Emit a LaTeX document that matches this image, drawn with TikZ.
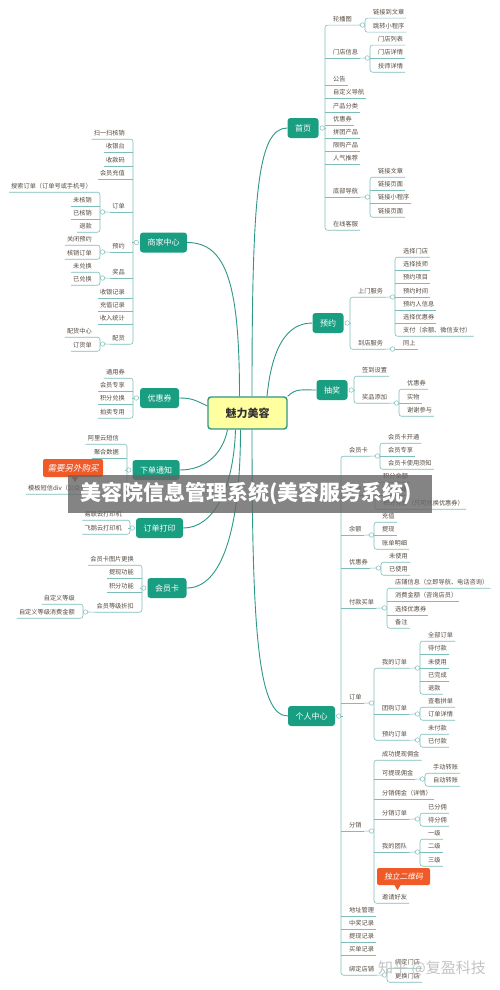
\documentclass[tikz,border=0pt]{standalone}
\usepackage{fontspec}
\setmainfont{Noto Sans CJK SC}
\newfontfamily\penche[FakeSlant=0.2]{Noto Sans CJK SC}

\definecolor{vert}{RGB}{26,158,130}
\definecolor{vertfonce}{RGB}{45,152,135}
\definecolor{trait}{RGB}{125,190,185}
\definecolor{texte}{RGB}{85,75,65}
\definecolor{jaune}{RGB}{255,255,160}
\definecolor{orangec}{RGB}{240,90,40}

\tikzset{
    item/.style={font=\fontsize{6.2}{7}\selectfont, text=texte, inner xsep=2pt, inner ysep=2.25pt, text height=4.5pt, text depth=1pt},
    itemD/.style={item, anchor=west},
    itemG/.style={item, anchor=east},
    rameau/.style={draw=trait, line width=0.6pt},
    bouton/.style={circle, draw=trait, fill=white, line width=0.5pt, minimum size=4.5pt, inner sep=0pt},
    theme/.style={fill=vert, rounded corners=3pt, text=white, font=\fontsize{8}{9}\selectfont, minimum height=20pt, inner xsep=7.5pt, inner ysep=0pt},
    centre/.style={draw=vertfonce, line width=1.4pt, fill=jaune, rounded corners=3pt, minimum width=79pt, minimum height=32pt, font=\fontsize{11}{12}\selectfont\bfseries, text=black!80},
    branche/.style={draw=vertfonce, line width=0.9pt},
    bulle/.style={fill=orangec, rounded corners=2pt, text=white, inner sep=0pt}
}

% soulignements et accolades (D = droite, G = gauche)
\newcommand{\soulD}[1]{\draw[rameau] (#1.south east) -- ([xshift=-6pt]#1.south west);}
\newcommand{\accD}[2]{\draw[rameau, rounded corners=2.5pt] (#1.south east) -- ([xshift=-6pt]#1.south west) -- ([xshift=-6pt]#2.south west) -- (#2.south east);}
\newcommand{\soulG}[1]{\draw[rameau] (#1.south west) -- ([xshift=6pt]#1.south east);}
\newcommand{\accG}[2]{\draw[rameau, rounded corners=2.5pt] (#1.south west) -- ([xshift=6pt]#1.south east) -- ([xshift=6pt]#2.south east) -- (#2.south west);}

\begin{document}
\begin{tikzpicture}[x=1pt, y=-1pt]
            % Fond
            \fill[white] (0,0) rectangle (500,990);
            \useasboundingbox (0,0) rectangle (500,990);

            % Nœud central et thèmes
            \node[centre] (main) at (247.5,413) {魅力美容};
            \node[theme] (sy) at (303,128) {首页};
            \node[theme] (yy) at (328,323) {预约};
            \node[theme] (cj) at (332,390) {抽奖};
            \node[theme] (gr) at (311.5,716) {个人中心};
            \node[theme] (sj) at (163.5,242.5) {商家中心};
            \node[theme] (yh) at (159.5,398) {优惠券};
            \node[theme] (xd) at (156,470) {下单通知};
            \node[theme] (dy) at (159.5,528) {订单打印};
            \node[theme] (hk) at (167,588) {会员卡};

            % Branches principales
            \draw[branche] ([xshift=4.5pt]main.north) .. controls +(0,-200) and +(-30,0) .. (sy.west);
            \draw[branche] ([xshift=19.5pt]main.north) .. controls +(5,-50) and +(-25,0) .. (yy.west);
            \draw[branche] (main.north east) .. controls +(8,-8) and +(-15,0) .. (cj.west);
            \draw[branche] ([xshift=-8pt]main.north) .. controls +(0,-110) and +(40,0) .. (sj.east);
            \draw[branche] ([yshift=7pt]main.west) .. controls +(-12,-6) and +(12,0) .. (yh.east);
            \draw[branche] ([xshift=-20pt]main.south) .. controls +(-5,25) and +(25,0) .. (xd.east);
            \draw[branche] ([xshift=-12pt]main.south) .. controls +(-2,60) and +(30,0) .. (dy.east);
            \draw[branche] ([xshift=-7pt]main.south) .. controls +(0,100) and +(35,0) .. (hk.east);
            \draw[branche] ([xshift=4.5pt]main.south) .. controls +(0,200) and +(-30,0) .. (gr.west);

            % Boutons des thèmes
            \foreach \n in {sy,yy,cj,gr} {
                \node[bouton] (k-\n) at ([xshift=3.5pt]\n.east) {};
                \draw[rameau] (k-\n.east) -- ++(1.5,0);
            }
            \foreach \n in {sj,yh,xd,dy,hk} {
                \node[bouton] (k-\n) at ([xshift=-3.5pt]\n.west) {};
                \draw[rameau] (k-\n.west) -- ++(-1.5,0);
            }

            % ---------- 首页 ----------
            \foreach \y/\lab/\n in {20/轮播图/sy1, 53/门店信息/sy2, 80/公告/sy3, 93/自定义导航/sy4, 107/产品分类/sy5, 120/优惠券/sy6,
                133/拼团产品/sy7, 146/限购产品/sy8, 159/人气推荐/sy9, 192/底部导航/sy10, 225/在线客服/sy11}
                \node[itemD] (\n) at (331,\y) {\lab};
            \accD{sy1}{sy11}
            \foreach \i in {2,...,10} {\soulD{sy\i}}
            \foreach \y/\lab/\n in {13/链接到文章/sy1a, 27/跳转小程序/sy1b}
                \node[itemD] (\n) at (371,\y) {\lab};
            \accD{sy1a}{sy1b}
            \foreach \y/\lab/\n in {40/门店列表/sy2a, 53/门店详情/sy2b, 67/技师详情/sy2c, 172/链接文章/sy10a, 185/链接页面/sy10b, 198/链接小程序/sy10c, 212/链接页面/sy10d}
                \node[itemD] (\n) at (376,\y) {\lab};
            \accD{sy2a}{sy2c} \soulD{sy2b}
            \accD{sy10a}{sy10d} \soulD{sy10b} \soulD{sy10c}
            \node[bouton] (k-sy1) at (362.5,25) {};
            \node[bouton] (k-sy2) at (367.5,58) {};
            \node[bouton] (k-sy10) at (367.5,197) {};
            \draw[rameau] (sy1.south east) -- (k-sy1.west);
            \draw[rameau] (sy2.south east) -- (k-sy2.west);
            \draw[rameau] (sy10.south east) -- (k-sy10.west);

            % ---------- 预约 ----------
            \node[itemD] (yy1) at (356,292) {上门服务};
            \node[itemD] (yy2) at (356,344) {到店服务};
            \accD{yy1}{yy2}
            \foreach \y/\lab/\n in {252/选择门店/yy1a, 265/选择技师/yy1b, 278/预约项目/yy1c, 292/预约时间/yy1d, 305/预约人信息/yy1e,
                318/选择优惠券/yy1f, 331/支付（余额、微信支付）/yy1g, 344/同上/yy2a}
                \node[itemD] (\n) at (401,\y) {\lab};
            \accD{yy1a}{yy1g}
            \foreach \i in {b,c,d,e,f} {\soulD{yy1\i}}
            \soulD{yy2a}
            \node[bouton] (k-yy1) at (392.5,297) {};
            \node[bouton] (k-yy2) at (392.5,349) {};
            \draw[rameau] (yy1.south east) -- (k-yy1.west);
            \draw[rameau] (yy2.south east) -- (k-yy2.west);

            % ---------- 抽奖 ----------
            \node[itemD] (cj1) at (360,371) {签到设置};
            \node[itemD] (cj2) at (360,398) {奖品添加};
            \accD{cj1}{cj2}
            \foreach \y/\lab/\n in {384/优惠券/cj2a, 398/实物/cj2b, 411/谢谢参与/cj2c}
                \node[itemD] (\n) at (405,\y) {\lab};
            \accD{cj2a}{cj2c} \soulD{cj2b}
            \node[bouton] (k-cj2) at (396.5,403) {};
            \draw[rameau] (cj2.south east) -- (k-cj2.west);

            % ---------- 个人中心 ----------
            \foreach \y/\lab/\n in {451/会员卡/gr1, 490/积分/gr2, 530/余额/gr3, 563/优惠券/gr4, 603/付款买单/gr5, 698/订单/gr6,
                826/分销/gr7, 911/地址管理/gr8, 924/中奖记录/gr9, 937/提现记录/gr10, 950/买单记录/gr11, 970/绑定店铺/gr12}
                \node[itemD] (\n) at (347,\y) {\lab};
            \accD{gr1}{gr12}
            \foreach \i in {2,...,11} {\soulD{gr\i}}

            \foreach \y/\lab/\n in {438/会员卡开通/gr1a, 451/会员专享/gr1b, 464/会员卡使用须知/gr1c}
                \node[itemD] (\n) at (386,\y) {\lab};
            \accD{gr1a}{gr1c} \soulD{gr1b}
            \foreach \y/\lab/\n in {477/积分余额/gr2a, 490/积分明细/gr2b, 504/积分兑换（只可兑换优惠券）/gr2c}
                \node[itemD] (\n) at (381,\y) {\lab};
            \accD{gr2a}{gr2c} \soulD{gr2b}
            \foreach \y/\lab/\n in {517/充值/gr3a, 530/提现/gr3b, 544/账单明细/gr3c}
                \node[itemD] (\n) at (380,\y) {\lab};
            \accD{gr3a}{gr3c} \soulD{gr3b}
            \foreach \y/\lab/\n in {557/未使用/gr4a, 570/已使用/gr4b}
                \node[itemD] (\n) at (387,\y) {\lab};
            \accD{gr4a}{gr4b}
            \foreach \y/\lab/\n in {583/店铺信息（立即导航、电话咨询）/gr5a, 596/消费金额（咨询店员）/gr5b, 610/选择优惠券/gr5c, 623/备注/gr5d}
                \node[itemD] (\n) at (393,\y) {\lab};
            \accD{gr5a}{gr5d} \soulD{gr5b} \soulD{gr5c}

            % commandes
            \foreach \y/\lab/\n in {663/我的订单/gr6a, 709/团购订单/gr6b, 735/预约订单/gr6c}
                \node[itemD] (\n) at (380,\y) {\lab};
            \accD{gr6a}{gr6c} \soulD{gr6b}
            \foreach \y/\lab/\n in {636/全部订单/gr6a1, 649/待付款/gr6a2, 663/未使用/gr6a3, 676/已完成/gr6a4, 689/退款/gr6a5,
                702/查看拼单/gr6b1, 715/订单详情/gr6b2, 729/未付款/gr6c1, 742/已付款/gr6c2}
                \node[itemD] (\n) at (426,\y) {\lab};
            \accD{gr6a1}{gr6a5} \soulD{gr6a2} \soulD{gr6a3} \soulD{gr6a4}
            \accD{gr6b1}{gr6b2}
            \accD{gr6c1}{gr6c2}

            % distribution
            \foreach \y/\lab/\n in {755/成功提现佣金/gr7a, 774/可提现佣金/gr7b, 794/分销佣金（详情）/gr7c, 814/分销订单/gr7d, 847/我的团队/gr7e, 898/邀请好友/gr7f}
                \node[itemD] (\n) at (380,\y) {\lab};
            \accD{gr7a}{gr7f}
            \foreach \i in {b,c,d,e} {\soulD{gr7\i}}
            \node[itemD] (gr7b1) at (431,768) {手动转账};
            \node[itemD] (gr7b2) at (431,781) {自动转账};
            \accD{gr7b1}{gr7b2}
            \foreach \y/\lab/\n in {808/已分佣/gr7d1, 821/待分佣/gr7d2, 834/一级/gr7e1, 847/二级/gr7e2, 861/三级/gr7e3}
                \node[itemD] (\n) at (426,\y) {\lab};
            \accD{gr7d1}{gr7d2}
            \accD{gr7e1}{gr7e3} \soulD{gr7e2}

            % magasins
            \node[itemD] (gr12a) at (393,963) {绑定门店};
            \node[itemD] (gr12b) at (393,977) {更换门店};
            \accD{gr12a}{gr12b}

            % boutons du 个人中心
            \foreach \n/\x/\y in {gr1/377.5/456, gr2/372.5/495, gr3/371.5/535, gr4/378.5/568, gr5/384.5/608, gr6/371.5/703,
                gr6a/417.5/668, gr6b/417.5/714, gr6c/417.5/740, gr7/371.5/831, gr7b/422.5/779, gr7d/417.5/819, gr7e/417.5/852, gr12/384.5/975} {
                \node[bouton] (k-\n) at (\x,\y) {};
                \draw[rameau] (\n.south east) -- (k-\n.west);
            }

            % ---------- 商家中心 ----------
            \foreach \y/\lab/\n in {134/扫一扫核销/sj1, 147/收银台/sj2, 161/收款码/sj3, 174/会员充值/sj4, 207/订单/sj5, 247/预约/sj6,
                273/奖品/sj7, 293/收银记录/sj8, 306/充值记录/sj9, 319/收入统计/sj10, 339/配货/sj11}
                \node[itemG] (\n) at (127,\y) {\lab};
            \accG{sj1}{sj11}
            \foreach \i in {2,...,10} {\soulG{sj\i}}
            \foreach \y/\lab/\n in {187/搜索订单（订单号或手机号）/sj5a, 201/未核销/sj5b, 214/已核销/sj5c, 227/退款/sj5d,
                240/关闭预约/sj6a, 254/核销订单/sj6b, 267/未兑换/sj7a, 280/已兑换/sj7b, 332/配货中心/sj11a, 346/订货单/sj11b}
                \node[itemG] (\n) at (94,\y) {\lab};
            \accG{sj5a}{sj5d} \soulG{sj5b} \soulG{sj5c}
            \accG{sj6a}{sj6b}
            \accG{sj7a}{sj7b}
            \accG{sj11a}{sj11b}
            \foreach \n/\y in {sj5/212, sj6/252, sj7/278, sj11/344} {
                \node[bouton] (k-\n) at (102.5,\y) {};
                \draw[rameau] (\n.south west) -- (k-\n.east);
            }

            % ---------- 优惠券 ----------
            \foreach \y/\lab/\n in {373/通用券/yh1, 386/会员专享/yh2, 399/积分兑换/yh3, 413/拍卖专用/yh4}
                \node[itemG] (\n) at (127,\y) {\lab};
            \accG{yh1}{yh4} \soulG{yh2} \soulG{yh3}

            % ---------- 下单通知 ----------
            \node[itemG] (xd1) at (121,439) {阿里云短信};
            \node[itemG] (xd2) at (121,453) {聚合数据};
            \node[itemD] (xd3) at (26,489) {模板短信div（公众号）};
            \draw[rameau, rounded corners=2.5pt] (xd1.south west) -- ([xshift=6pt]xd1.south east) -- ([xshift=6pt]xd1.south east |- xd3.south) -- (xd3.south west);
            \soulG{xd2}

            % ---------- 订单打印 ----------
            \node[itemG] (dy1) at (124,515) {易联云打印机};
            \node[itemG] (dy2) at (124,529) {飞鹅云打印机};
            \accG{dy1}{dy2}

            % ---------- 会员卡 ----------
            \foreach \y/\lab/\n in {560/会员卡图片更换/hk1, 573/提现功能/hk2, 587/积分功能/hk3, 607/会员等级折扣/hk4}
                \node[itemG] (\n) at (136,\y) {\lab};
            \accG{hk1}{hk4} \soulG{hk2} \soulG{hk3}
            \node[itemG] (hk4a) at (77,599) {自定义等级};
            \node[itemG] (hk4b) at (77,613) {自定义等级消费金额};
            \accG{hk4a}{hk4b}
            \node[bouton] (k-hk4) at (85.5,612) {};
            \draw[rameau] (hk4.south west) -- (k-hk4.east);

            % Bulles
            \node[bulle, minimum width=60pt, minimum height=18pt, font=\penche\fontsize{8.5}{9}\selectfont] (bq1) at (73,468) {需要另外购买};
            \fill[orangec] ([xshift=-1pt]bq1.south) -- ([xshift=2pt,yshift=-5pt]bq1.south) -- ([xshift=5pt]bq1.south) -- cycle;
            \node[bulle, minimum width=53pt, minimum height=17pt, font=\penche\fontsize{7.8}{9}\selectfont] (bq2) at (403.5,876.5) {独立二维码};
            \fill[orangec] ([xshift=-9pt]bq2.south) -- ([xshift=-6pt,yshift=-5pt]bq2.south) -- ([xshift=-3pt]bq2.south) -- cycle;

            % Bandeau du titre
            \fill[black!60, fill opacity=0.8] (68,475) rectangle (432,513);
            \node[text=white, font=\fontsize{21}{22}\selectfont\bfseries] (titre) at (246,494) {美容院信息管理系统(美容服务系统)};

            % Filigrane
            \node[text=gray!55, text opacity=0.85, font=\fontsize{15}{16}\selectfont] (fil) at (432,968) {知乎 @复盈科技};
\end{tikzpicture}
\end{document}
